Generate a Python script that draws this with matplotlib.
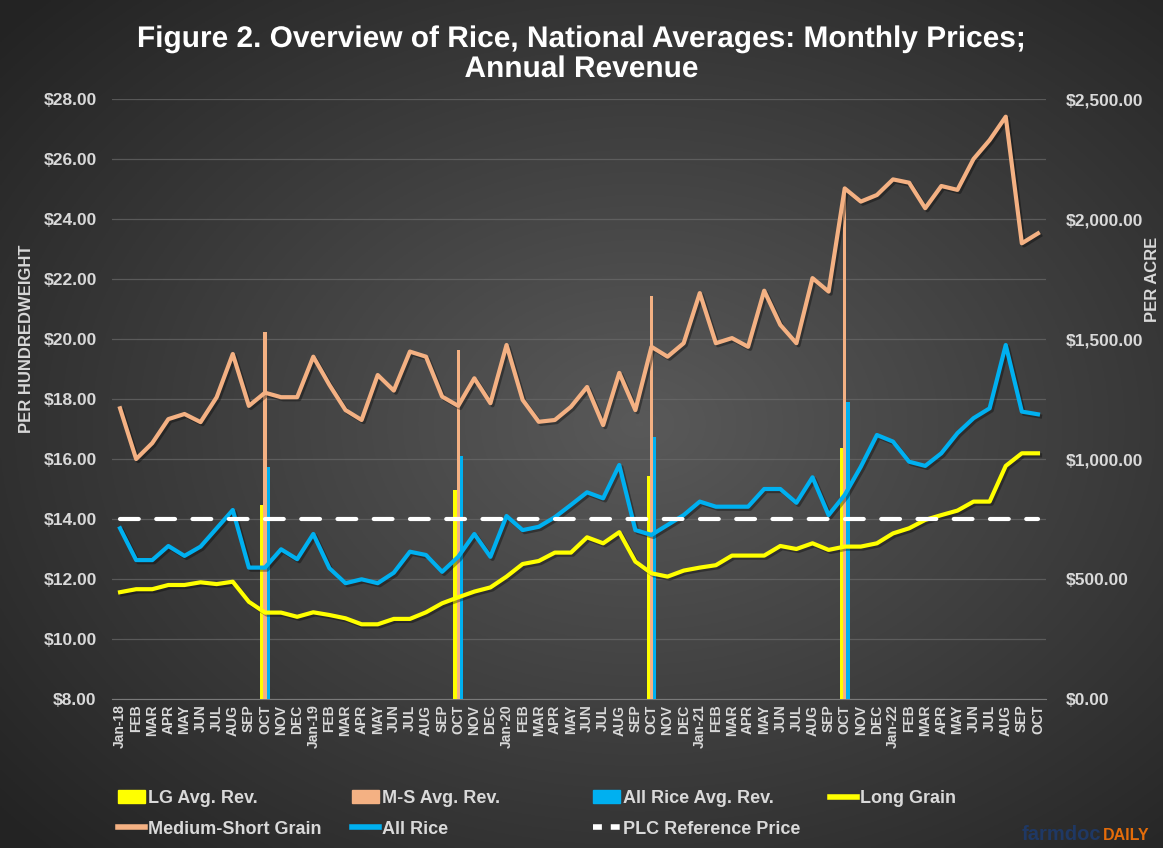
import numpy as np
import matplotlib
matplotlib.use("Agg")
import matplotlib.pyplot as plt
import matplotlib.patheffects as pe
from matplotlib.lines import Line2D
from matplotlib.patches import Patch
from matplotlib.ticker import FuncFormatter, MultipleLocator

plt.rcParams["font.family"] = ["Liberation Sans", "DejaVu Sans"]

# month categories, Jan-18 .. OCT-22
month_labels = [
    "Jan-18", "FEB", "MAR", "APR", "MAY", "JUN", "JUL", "AUG", "SEP", "OCT", "NOV", "DEC",
    "Jan-19", "FEB", "MAR", "APR", "MAY", "JUN", "JUL", "AUG", "SEP", "OCT", "NOV", "DEC",
    "Jan-20", "FEB", "MAR", "APR", "MAY", "JUN", "JUL", "AUG", "SEP", "OCT", "NOV", "DEC",
    "Jan-21", "FEB", "MAR", "APR", "MAY", "JUN", "JUL", "AUG", "SEP", "OCT", "NOV", "DEC",
    "Jan-22", "FEB", "MAR", "APR", "MAY", "JUN", "JUL", "AUG", "SEP", "OCT",
]

# monthly prices, $/cwt
long_grain = [
    11.56, 11.66, 11.66, 11.80, 11.80, 11.89, 11.83, 11.91, 11.24, 10.88, 10.88, 10.74,
    10.89, 10.80, 10.69, 10.49, 10.49, 10.67, 10.67, 10.89, 11.19, 11.39, 11.58, 11.72,
    12.08, 12.50, 12.60, 12.88, 12.88, 13.39, 13.19, 13.56, 12.58, 12.19, 12.08, 12.28,
    12.38, 12.46, 12.78, 12.78, 12.78, 13.10, 13.00, 13.19, 12.97, 13.08, 13.08, 13.19,
    13.52, 13.69, 13.97, 14.13, 14.28, 14.58, 14.58, 15.77, 16.19, 16.19,
]
medium_short = [
    17.69, 16.00, 16.53, 17.33, 17.50, 17.23, 18.06, 19.50, 17.77, 18.21, 18.06, 18.06,
    19.41, 18.47, 17.63, 17.30, 18.80, 18.28, 19.58, 19.41, 18.08, 17.77, 18.69, 17.86,
    19.80, 17.97, 17.24, 17.30, 17.74, 18.40, 17.13, 18.87, 17.63, 19.74, 19.41, 19.86,
    21.53, 19.86, 20.03, 19.74, 21.61, 20.47, 19.86, 22.03, 21.58, 25.02, 24.58, 24.80,
    25.32, 25.21, 24.36, 25.10, 24.97, 26.00, 26.63, 27.41, 23.19, 23.52,
]
all_rice = [
    13.69, 12.63, 12.63, 13.10, 12.77, 13.08, 13.69, 14.30, 12.38, 12.38, 12.99, 12.66,
    13.50, 12.36, 11.86, 11.99, 11.86, 12.21, 12.91, 12.80, 12.24, 12.74, 13.50, 12.74,
    14.10, 13.63, 13.74, 14.06, 14.47, 14.89, 14.69, 15.80, 13.63, 13.47, 13.80, 14.13,
    14.58, 14.41, 14.41, 14.41, 15.00, 15.00, 14.54, 15.39, 14.13, 14.80, 15.74, 16.80,
    16.58, 15.91, 15.77, 16.19, 16.86, 17.36, 17.69, 19.80, 17.58, 17.49,
]
plc_reference = 14.00

# annual revenue per acre, shown at each OCT (2018-2021 crop years)
lg_rev = [808, 871, 930, 1045]
ms_rev = [1530, 1454, 1679, 2130]
all_rev = [965, 1012, 1093, 1239]

C_YELLOW = "#ffff00"
C_ORANGE = "#f4b183"
C_BLUE = "#00b0f0"
C_TEXT = "#d9d9d9"

W, H = 1163, 848
fig = plt.figure(figsize=(W / 100, H / 100), dpi=100)

# radial dark-grey background
bg = fig.add_axes([0, 0, 1, 1], zorder=-10)
yy, xx = np.mgrid[0:1:400j, 0:1:550j]
r = np.sqrt(((xx - 0.55) / 0.75) ** 2 + ((yy - 0.5) / 0.75) ** 2)
shade = np.clip(0.35 - 0.22 * r, 0.14, 0.36)
bg.imshow(np.dstack([shade] * 3), aspect="auto", extent=[0, 1, 0, 1])
bg.axis("off")

left, right, top, bottom = 112 / W, 1046 / W, 1 - 99 / H, 1 - 699 / H
ax = fig.add_axes([left, bottom, right - left, top - bottom])
ax2 = ax.twinx()
ax.set_zorder(2)
ax2.set_zorder(1)
ax.patch.set_visible(False)
ax2.patch.set_visible(False)

x = np.arange(len(month_labels))
bar_pos = np.array([i for i, m in enumerate(month_labels) if m == "OCT"][:len(lg_rev)])
bw = 0.2
ax2.bar(bar_pos - bw, lg_rev, bw, color=C_YELLOW, zorder=3)
ax2.bar(bar_pos, ms_rev, bw, color=C_ORANGE, zorder=3)
ax2.bar(bar_pos + bw, all_rev, bw, color=C_BLUE, zorder=3)

shadow = [pe.SimpleLineShadow(offset=(1.5, -1.5), alpha=0.35), pe.Normal()]
lw = 3.0
ax.plot(x, long_grain, color=C_YELLOW, lw=lw, path_effects=shadow, solid_joinstyle="round")
ax.plot(x, medium_short, color=C_ORANGE, lw=lw, path_effects=shadow, solid_joinstyle="round")
ax.plot(x, all_rice, color=C_BLUE, lw=lw, path_effects=shadow, solid_joinstyle="round")
ax.plot([x[0], x[-1]], [plc_reference] * 2, color="white", lw=lw,
        dashes=(4.5, 4.2), dash_capstyle="round")

ax.set_xlim(-0.5, len(month_labels) - 0.5)
ax.set_ylim(8, 28)
ax2.set_ylim(0, 2500)
ax.yaxis.set_major_locator(MultipleLocator(2))
ax2.yaxis.set_major_locator(MultipleLocator(500))
ax2.yaxis.set_minor_locator(MultipleLocator(250))
ax2.grid(which="both", axis="y", color="#6a6a6a", lw=0.9, alpha=0.7)
ax2.set_axisbelow(True)

ax.yaxis.set_major_formatter(FuncFormatter(lambda v, _: f"${v:.2f}"))
ax2.yaxis.set_major_formatter(FuncFormatter(lambda v, _: f"${v:,.2f}"))
ax.set_xticks(x)
ax.set_xticklabels(month_labels, rotation=90, fontsize=10, fontweight="bold", color=C_TEXT)
ax.tick_params(axis="x", length=0, pad=4)
ax.tick_params(axis="y", length=0, pad=11, labelsize=12.5, labelcolor=C_TEXT)
ax2.tick_params(axis="y", which="both", length=0, pad=14, labelsize=12.5, labelcolor=C_TEXT)
for lbl in ax.get_yticklabels() + ax2.get_yticklabels():
    lbl.set_fontweight("bold")

for a in (ax, ax2):
    for s in a.spines.values():
        s.set_visible(False)
ax2.spines["bottom"].set_visible(True)
ax2.spines["bottom"].set_color("#7a7a7a")

ax.set_ylabel("PER HUNDREDWEIGHT", color=C_TEXT, fontsize=12, fontweight="bold")
ax2.set_ylabel("PER ACRE", color=C_TEXT, fontsize=12, fontweight="bold")
ax.yaxis.set_label_coords(-0.084, 0.6)
ax2.yaxis.set_label_coords(1.106, 0.7)

fig.text(0.5, 1 - 39 / H, "Figure 2. Overview of Rice, National Averages: Monthly Prices;",
         ha="center", va="center", color="white", fontsize=21.5, fontweight="bold",
         path_effects=[pe.SimpleLineShadow(), pe.Normal()])
fig.text(0.5, 1 - 69 / H, "Annual Revenue", ha="center", va="center", color="white",
         fontsize=21.5, fontweight="bold", path_effects=[pe.SimpleLineShadow(), pe.Normal()])

# legend, built column by column to match the reference spacing
def line_h(color, **kw):
    return Line2D([], [], color=color, lw=4, **kw)

columns = [
    (118, [Patch(color=C_YELLOW), line_h(C_ORANGE)], ["LG Avg. Rev.", "Medium-Short Grain"]),
    (352, [Patch(color=C_ORANGE), line_h(C_BLUE)], ["M-S Avg. Rev.", "All Rice"]),
    (593, [Patch(color=C_BLUE), line_h("white", dashes=(1.6, 1.6))],
     ["All Rice Avg. Rev.", "PLC Reference Price"]),
    (830, [line_h(C_YELLOW)], ["Long Grain"]),
]
for xpix, handles, labels in columns:
    leg = fig.legend(handles, labels, loc="upper left", bbox_to_anchor=(xpix / W, 1 - 790 / H),
                     frameon=False, fontsize=13, handlelength=1.5, handleheight=0.7,
                     handletextpad=0.15, labelspacing=0.75, borderaxespad=0, borderpad=0)
    for t in leg.get_texts():
        t.set_color(C_TEXT)
        t.set_fontweight("bold")

fig.text(1022 / W, 1 - 834 / H, "farmdoc", color="#1f3864", fontsize=14.5, fontweight="bold",
         ha="left", va="center")
fig.text(1103 / W, 1 - 836 / H, "DAILY", color="#e46c0a", fontsize=11.5, fontweight="bold",
         ha="left", va="center")

fig.savefig("out.png", dpi=100)
